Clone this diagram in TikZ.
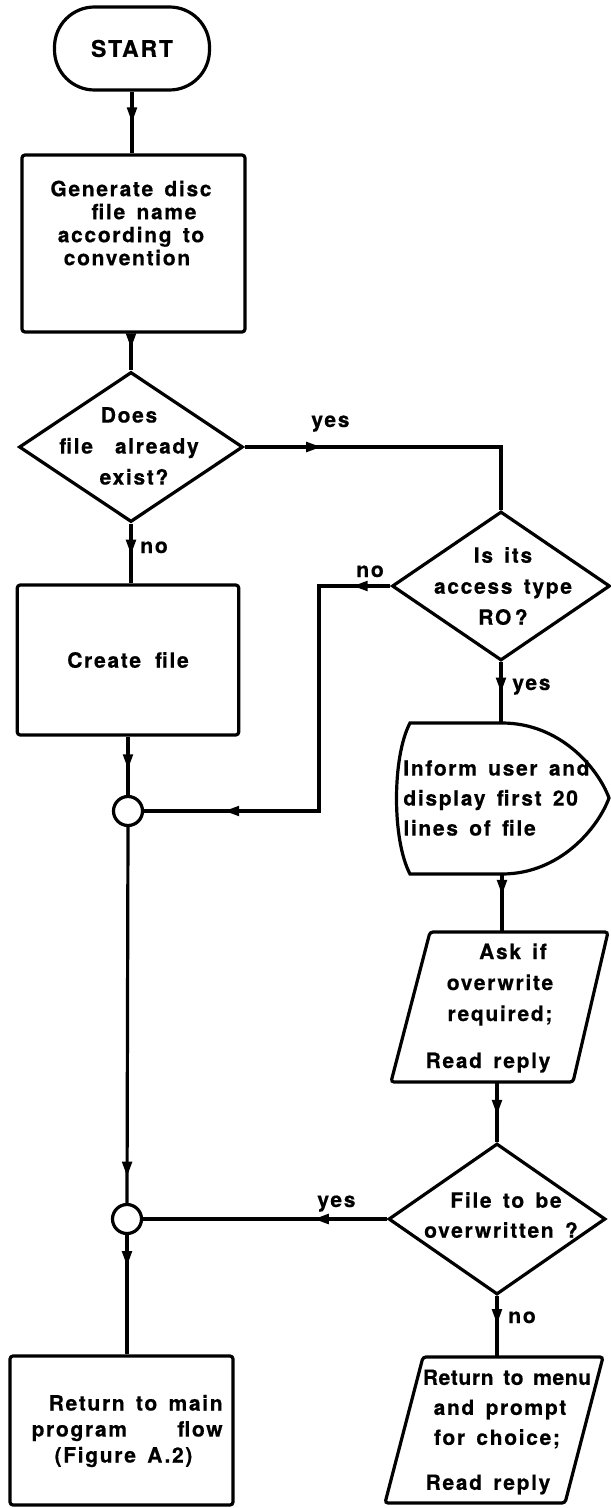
\documentclass[tikz,border=0pt]{standalone}
\usepackage{fontspec}
\setmainfont{TeX Gyre Heros}[LetterSpace=8,WordSpace=1.5,BoldFeatures={FakeBold=0.5}]
\usetikzlibrary{shapes.geometric,decorations.markings,arrows.meta,calc}
\tikzset{
  ln/.style={line width=1.6pt},
  box/.style={draw,line width=1.6pt,rounded corners=1.5pt,inner sep=0pt},
  dia/.style={draw,diamond,line width=1.6pt,inner sep=0pt},
  ghost/.style={inner sep=0pt,outer sep=0pt},
  txt/.style={font=\bfseries\fontsize{10.5}{#1}\selectfont,align=center,inner sep=0pt},
  lab/.style={font=\bfseries\fontsize{10.5}{12}\selectfont,inner sep=0pt},
  jn/.style={draw,circle,line width=1.6pt,minimum size=14.5pt,inner sep=0pt},
  arr/.style={postaction={decorate,decoration={markings,mark=at position #1 with {\arrow{Triangle[length=7.5pt,width=4.8pt]}}}}},
}
\begin{document}
\begin{tikzpicture}[x=0.5pt,y=-0.5pt]
\useasboundingbox (0,0) rectangle (610,1508);

% ---- left column
\node[box,rounded corners=20pt,minimum width=77.5pt,minimum height=41.5pt,
      font=\bfseries\fontsize{11.5}{12}\selectfont,inner sep=0pt] (start) at (132,48.5) {START};
\node[box,minimum width=111.5pt,minimum height=88.5pt] (b1) at (133.5,243.5) {};
\node[txt=11.5pt] (b1t) at (131,223) {Generate disc\\ \hspace*{13pt}file name\\ according to\\ convention\hspace*{4pt}};
\node[dia,minimum width=112pt,minimum height=75pt] (d1) at (131,447) {};
\node[txt=15.5pt] (d1t) at (129,446) {Does\\ file\hspace{11pt}already\\ \hspace*{5pt}exist?};
\node[box,minimum width=110.75pt,minimum height=75pt,txt=12pt] (cr) at (128,660) {Create\hspace{7pt}file};
\node[jn] (c1) at (128,811) {};
\node[jn] (c2) at (127,1219) {};
\node[box,minimum width=111.5pt,minimum height=74.5pt] (fin) at (121.5,1430.5) {};
\node[txt=13pt,anchor=east] (fint) at (223,1431)
  {\makebox[95.5pt][r]{Return to main}\\
   \makebox[95.5pt][l]{program\hfill flow}\\
   \makebox[95.5pt][l]{\hspace*{11.5pt}(Figure A.2)}};

% ---- right column
\node[dia,minimum width=109pt,minimum height=74.5pt] (d2) at (501,586) {};
\node[txt=15.5pt] (d2t) at (503,586) {Is its\\ access type\\ RO\,?};

\node[ghost,minimum width=107pt,minimum height=75.5pt] (disp) at (502,798.5) {};
\draw[ln] (410,723) -- (502,723) .. controls (560,723) and (598,768) .. (609,798)
  .. controls (598,828) and (560,874) .. (502,874) -- (410,874)
  .. controls (392,840) and (392,757) .. (410,723) -- cycle;
\node[txt=15pt,align=left,anchor=west] (dispt) at (403,798) {Inform user and\\ display first 20\\ lines of file};

\node[ghost,minimum width=108pt,minimum height=75pt] (p1) at (500,1007) {};
\draw[ln,rounded corners=1.5pt] (430,932) -- (608,932) -- (573,1082) -- (391,1082) -- cycle;
\node[txt=15.5pt] (p1t) at (500,1008) {\hspace*{13pt}Ask if\\ overwrite\\ required;\\[8pt] Read reply\hspace*{12pt}};

\node[dia,minimum width=108.5pt,minimum height=75.5pt] (d3) at (497,1219) {};
\node[txt=15pt] (d3t) at (501,1215) {\hspace*{5pt}File to be\\ overwritten ?};

\node[ghost,minimum width=109pt,minimum height=73pt] (p2) at (497,1430) {};
\draw[ln,rounded corners=1.5pt] (423,1357) -- (603,1357) -- (565,1503) -- (385,1503) -- cycle;
\node[txt=15pt] (p2t) at (497,1432) {\hspace*{10pt}{\addfontfeature{LetterSpace=3}Return to menu}\\ \hspace*{3pt}and prompt\\ for choice;\hspace*{7pt}\\[7.5pt] Read reply\hspace*{9pt}};

% ---- connectors
\coordinate (k1) at (319,586);
\draw[ln,arr=0.5] (start.south) -- (start.south |- b1.north);
\draw[ln,arr=0.4] (d1.north |- b1.south) -- (d1.north);
\draw[ln,arr=0.24] (d1.east) -| (d2.north);
\draw[ln,arr=0.52] (d1.south) -- (d1.south |- cr.north);
\draw[ln,arr=0.56] (c1.north |- cr.south) -- (c1.north);
\draw[ln,arr=0.08,arr=0.83] (d2.west) -- (k1) |- (c1.east);
\draw[ln,arr=0.93] (c1.south) -- (c2.north);
\draw[ln,arr=0.26] (c2.south) -- (c2.south |- fin.north);
\draw[ln,arr=0.5] (d2.south) -- (d2.south |- disp.north);
\draw[ln,arr=0.36] (disp.south) -- (disp.south |- p1.north);
\draw[ln,arr=0.55] (d3.north |- p1.south) -- (d3.north);
\draw[ln,arr=0.3] (d3.west) -- (c2.east);
\draw[ln,arr=0.46] (d3.south) -- (d3.south |- p2.north);

% ---- labels
\node[lab,anchor=base west] (yes1) at (311,427) {yes};
\node[lab,anchor=base west] (no1) at (140,553) {no};
\node[lab,anchor=base west] (no2) at (356,577) {no};
\node[lab,anchor=base west] (yes2) at (512,690) {yes};
\node[lab,anchor=base west] (yes3) at (317,1207) {yes};
\node[lab,anchor=base west] (no3) at (508,1323) {no};
\end{tikzpicture}
\end{document}
